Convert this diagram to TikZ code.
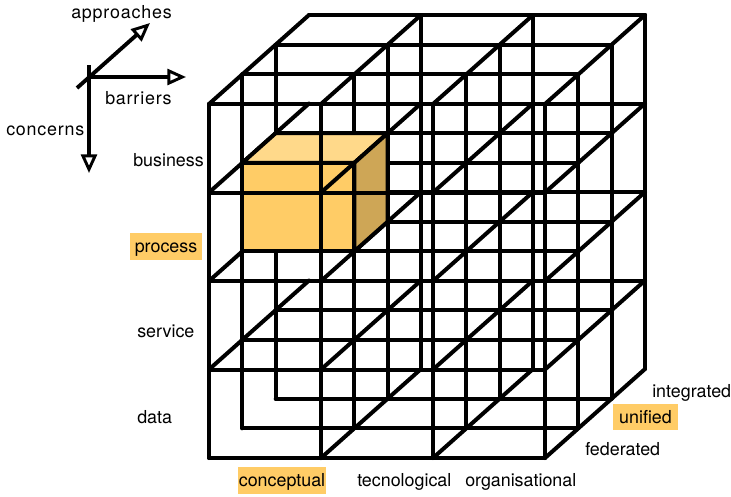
\documentclass[tikz,border=0pt]{standalone}
\usepackage{fontspec}
\setmainfont{TeX Gyre Heros}
\newfontfamily\axisfont{TeX Gyre Heros}[LetterSpace=4.5]
\usetikzlibrary{arrows.meta}
\definecolor{hlorange}{RGB}{255,204,102}
\definecolor{cubetop}{RGB}{255,217,138}
\definecolor{cubeside}{RGB}{206,166,86}
\begin{document}
\begin{tikzpicture}[x=0.75pt,y=-0.75pt,
  grid/.style={black,line width=3pt,line cap=round,line join=round},
  axis/.style={black,line width=2.9pt,-{Triangle[open,length=14pt,width=12pt,line width=2.2pt]}},
  lbl/.style={inner sep=0pt,anchor=base west,font=\fontsize{13.4pt}{16pt}\selectfont},
  axlbl/.style={lbl,font=\axisfont\fontsize{13.4pt}{16pt}\selectfont},
  hl/.style={lbl,anchor=base,fill=hlorange,inner xsep=0pt,inner ysep=1.5pt,text height=13.1pt,text depth=3.75pt}]
\useasboundingbox (0,0) rectangle (731,496);
% axes glyph
\coordinate (axo) at (89,77);
\coordinate (concernsstart) at (89,65);
\coordinate (concernstip) at (89,173);
\coordinate (barrierstip) at (186,77);
\coordinate (approachesstart) at (77,88);
\coordinate (approachestip) at (150,23);
\draw [axis] (concernsstart) -- (concernstip);
\draw [axis] (axo) -- (barrierstip);
\draw [axis] (approachesstart) -- (approachestip);
\node [axlbl] (approaches) at (71,18.3) {approaches};
\node [axlbl] (barriers) at (105,104) {barriers};
\node [axlbl] (concerns) at (6,135) {concerns};
% lattice: barriers x concerns x approaches
\begin{scope}[shift={(209,458)},x={(84pt,0pt)},y={(0pt,66.375pt)},z={(25pt,22.25pt)}]
\foreach \j in {0,...,4}
  \foreach \k in {0,1,2}
    \draw [grid] (0,\j,\k) -- (3,\j,\k);
\foreach \j in {1,...,4}
  \draw [grid] (0,\j,3) -- (3,\j,3);
\foreach \i in {0,...,3}
  \foreach \k in {0,1,2}
    \draw [grid] (\i,0,\k) -- (\i,4,\k);
\foreach \i in {1,2,3}
  \draw [grid] (\i,0,3) -- (\i,4,3);
\foreach \i in {1,2,3}
  \foreach \j in {0,...,4}
    \draw [grid] (\i,\j,0) -- (\i,\j,3);
\foreach \j in {1,...,4}
  \draw [grid] (0,\j,0) -- (0,\j,3);
% conceptual / process / unified cell
\filldraw [grid,fill=hlorange] (0,2,1) -- (1,2,1) -- (1,3,1) -- (0,3,1) -- cycle;
\filldraw [grid,fill=cubetop] (0,3,1) -- (1,3,1) -- (1,3,2) -- (0,3,2) -- cycle;
\filldraw [grid,fill=cubeside] (1,2,1) -- (1,2,2) -- (1,3,2) -- (1,3,1) -- cycle;
\draw [grid] (0,3,0) -- (3,3,0);
\draw [grid] (1,0,0) -- (1,4,0);
\draw [grid] (1,3,0) -- (1,3,1);
\end{scope}
% concerns
\node [lbl] (business) at (133,166) {business};
\node [hl,minimum width=54pt] (process) at (166,252.7) {process};
\node [lbl] (service) at (137,337) {service};
\node [lbl] (data) at (137,423) {data};
% barriers
\node [hl,minimum width=66pt] (conceptual) at (282,486.7) {conceptual};
\node [lbl] (tecnological) at (357,486.7) {tecnological};
\node [lbl] (organisational) at (465,486.7) {organisational};
% approaches
\node [lbl] (integrated) at (652,397) {integrated};
\node [hl,minimum width=48.75pt] (unified) at (645.5,423) {unified};
\node [lbl] (federated) at (585,455) {federated};
\end{tikzpicture}
\end{document}
